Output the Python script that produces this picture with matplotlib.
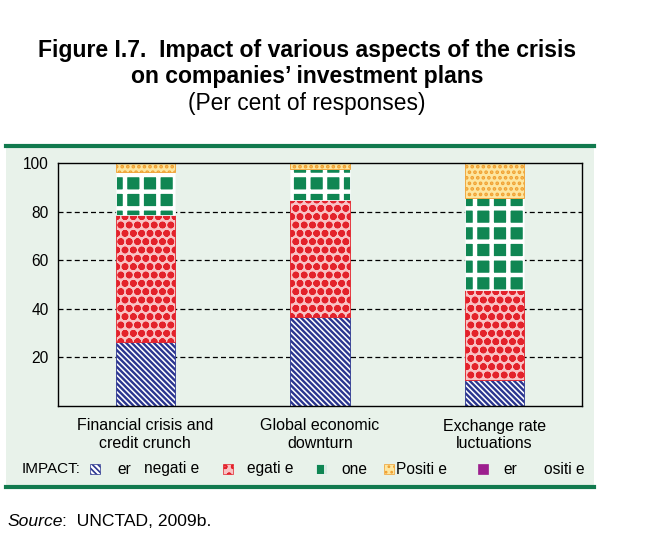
import matplotlib
matplotlib.use("Agg")
import matplotlib.pyplot as plt
from matplotlib.patches import Rectangle
from matplotlib.lines import Line2D
import numpy as np

# ---------------- data ----------------
categories = ["Financial crisis and\ncredit crunch", "Global economic\ndownturn", "Exchange rate\nluctuations"]
very_negative = [26.3, 36.5, 10.5]
negative = [52.2, 48.2, 37.1]
none_ = [18.0, 12.7, 38.1]
positive = [3.5, 2.6, 14.3]
very_positive = [0.0, 0.0, 0.0]
yticks = [20, 40, 60, 80, 100]

W, H = 668, 547
plt.rcParams['hatch.linewidth'] = 1.6
FONT = ['Liberation Sans', 'DejaVu Sans']
plt.rcParams['font.family'] = FONT

fig = plt.figure(figsize=(W / 100, H / 100), dpi=100)

def fx(px):
    return px / W

def fy(py):
    return 1 - py / H

bg = '#e8f2ea'
green_line = '#117a4e'

# panel background
fig.patches.append(Rectangle((fx(6), fy(487)), fx(594) - fx(6), fy(145) - fy(487),
                             transform=fig.transFigure, facecolor=bg, edgecolor='none', zorder=-5))
fig.lines.append(Line2D([fx(6), fx(594)], [fy(146), fy(146)], transform=fig.transFigure,
                        color=green_line, lw=3.0, zorder=-4))
fig.lines.append(Line2D([fx(6), fx(594)], [fy(486.5), fy(486.5)], transform=fig.transFigure,
                        color=green_line, lw=3.0, zorder=-4))

# title
fig.text(fx(307), fy(51), "Figure I.7.  Impact of various aspects of the crisis",
         ha='center', va='center', fontsize=16.6, fontweight='bold')
fig.text(fx(307), fy(77), "on companies\u2019 investment plans",
         ha='center', va='center', fontsize=16.6, fontweight='bold')
fig.text(fx(307), fy(104), "(Per cent of responses)",
         ha='center', va='center', fontsize=16.4)

# axes
ax = fig.add_axes([fx(58), fy(406), fx(582) - fx(58), fy(163) - fy(406)], zorder=2)
ax.set_facecolor(bg)
ax.set_xlim(-0.5, 2.5)
ax.set_ylim(0, 100)
ax.set_yticks(yticks)
ax.set_yticklabels([str(t) for t in yticks], fontsize=11.2)
ax.tick_params(axis='y', length=0, pad=6.5)
ax.tick_params(axis='x', length=0, pad=9, labelsize=11.5)
x = np.arange(len(categories))
ax.set_xticks(x)
ax.set_xticklabels(categories, fontsize=11.5, linespacing=1.2)
for sp in ax.spines.values():
    sp.set_linewidth(1.0)
    sp.set_color('black')
for t in [20, 40, 60, 80]:
    ax.axhline(t, color='black', lw=0.9, ls=(0, (4, 2.5)), zorder=1)

styles = [
    dict(label='Very negative', facecolor='white', edgecolor='#2b3690', hatch='\\' * 6, hlw=1.7),
    dict(label='Negative', facecolor='#f9c2c4', edgecolor='#e3222b', hatch='oo', hlw=2.4),
    dict(label='None', facecolor='#0f8653', edgecolor='white', hatch='+', hlw=3.2),
    dict(label='Positive', facecolor='#fde6a0', edgecolor='#f0a030', hatch='...', hlw=1.8),
    dict(label='Very positive', facecolor='#9c1f8e', edgecolor='#9c1f8e', hatch=None, hlw=1.0),
]
series = [very_negative, negative, none_, positive, very_positive]
bw = 0.34
bottom = np.zeros(len(categories))
for vals, st in zip(series, styles):
    vals = np.array(vals)
    with plt.rc_context({'hatch.linewidth': st['hlw']}):
        bars = ax.bar(x, vals, bw, bottom=bottom, facecolor=st['facecolor'], edgecolor=st['edgecolor'],
                      hatch=st['hatch'], linewidth=0.6, zorder=2)
    for b in bars:
        if hasattr(b, 'set_hatch_linewidth'):
            b.set_hatch_linewidth(st['hlw'])
    bottom += vals

# legend
ly = 469
fig.text(fx(22), fy(ly), "IMPACT:", ha='left', va='center', fontsize=11)
marker_x = [90, 223, 316, 384, 478]
for mx, st in zip(marker_x, styles):
    with plt.rc_context({'hatch.linewidth': 1.2}):
        r = Rectangle((fx(mx), fy(ly + 5)), fx(10), 10 / H, transform=fig.transFigure,
                      facecolor=st['facecolor'], edgecolor=st['edgecolor'],
                      hatch=st['hatch'], linewidth=0.5, zorder=3)
    fig.patches.append(r)
legend_words = [("er", 117), ("negati e", 144), ("egati e", 247), ("one", 341),
                ("Positi e", 396), ("er", 503), ("ositi e", 544)]
for w, px in legend_words:
    fig.text(fx(px), fy(ly), w, ha='left', va='center', fontsize=11.2)

# source
fig.text(fx(8), fy(521), "Source", ha='left', va='center', fontsize=12.6, style='italic')
fig.text(fx(62), fy(521), ":  UNCTAD, 2009b.", ha='left', va='center', fontsize=12.6)

fig.savefig("out.png", dpi=100)
